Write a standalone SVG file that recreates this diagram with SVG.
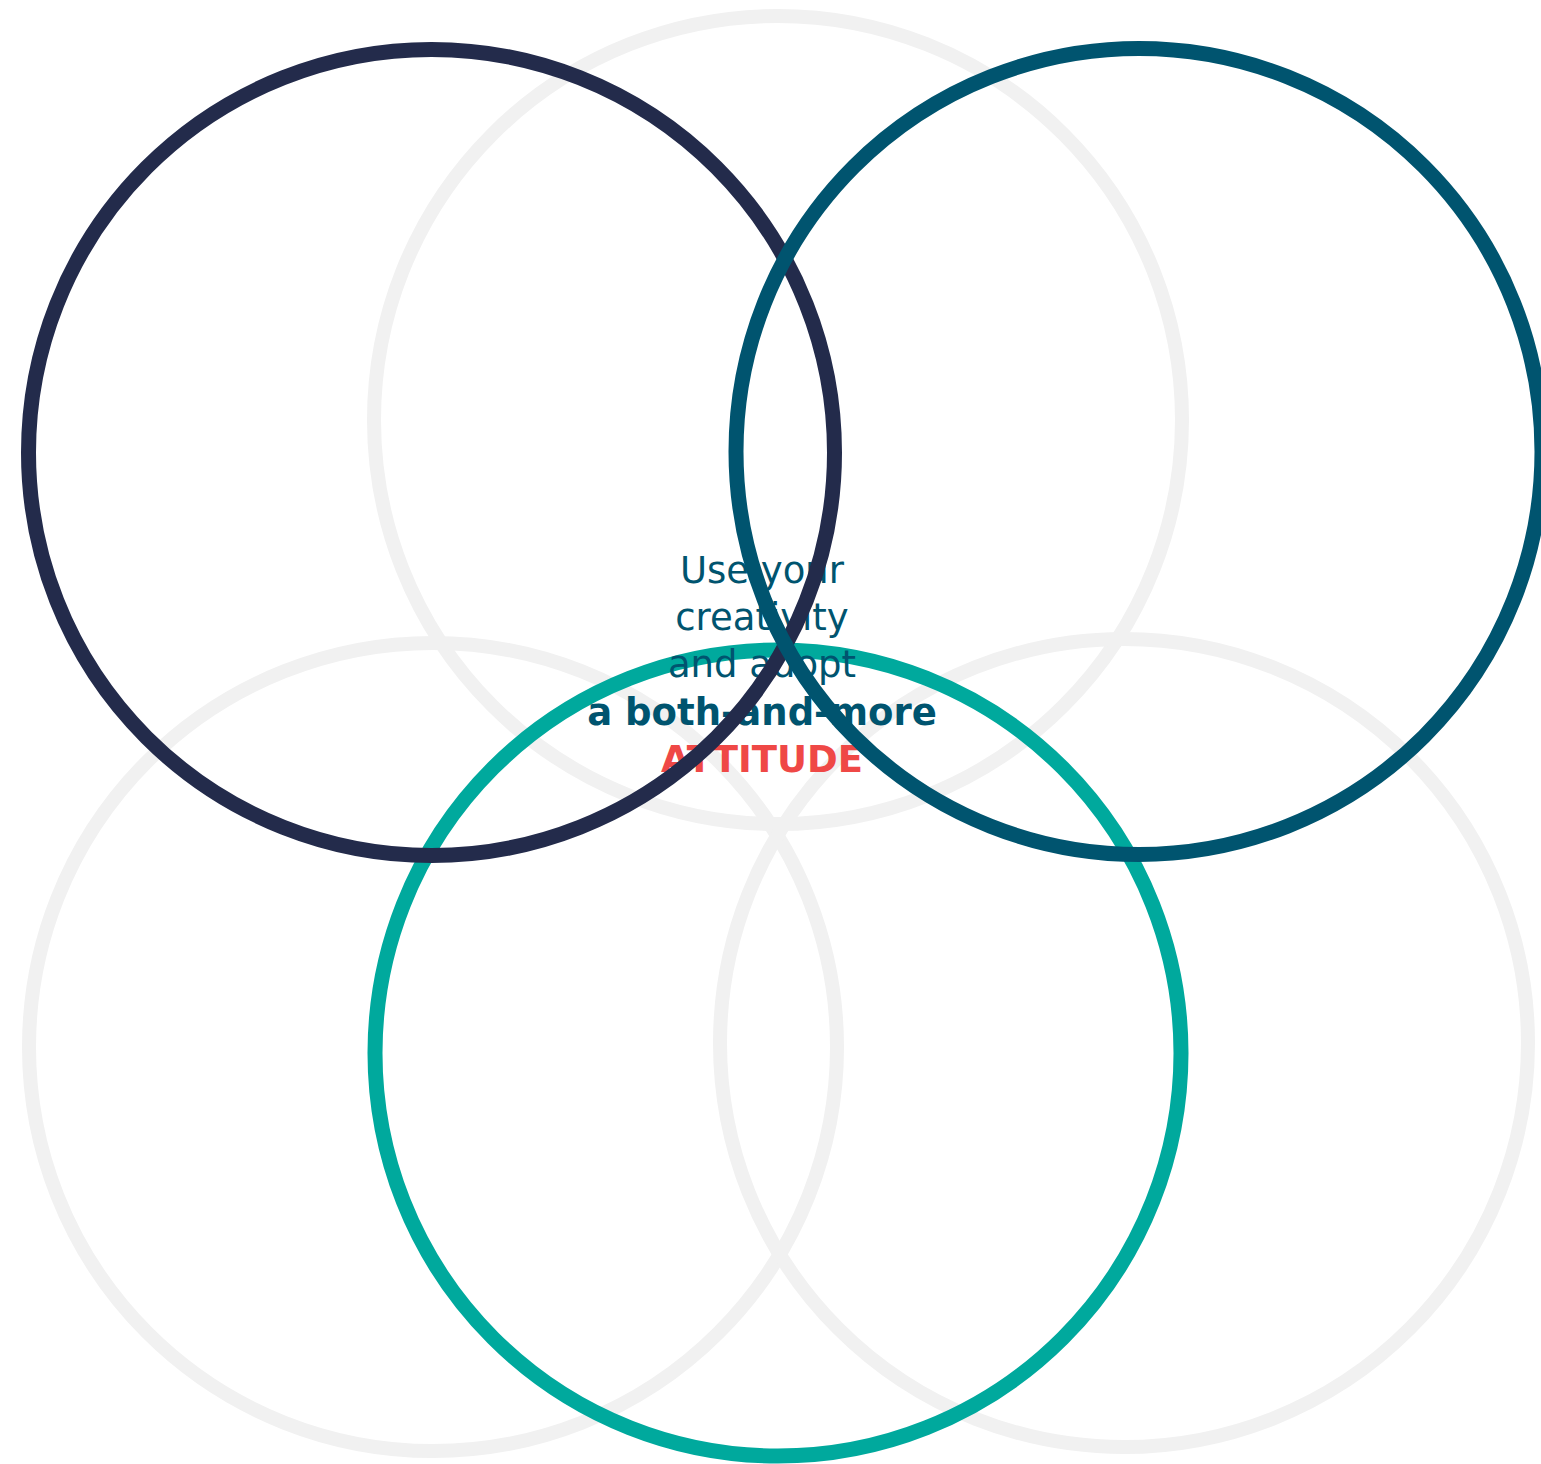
<svg xmlns="http://www.w3.org/2000/svg" width="1541" height="1464" viewBox="0 0 1541 1464">
<style>
.ring{fill:none;stroke-width:15}
.gray{stroke:#F1F1F1;stroke-width:14}
.t{font-family:"DejaVu Sans",Verdana,sans-serif;font-size:37px;text-anchor:middle;fill:#00546F}
.b{font-weight:bold}
.r{fill:#EF4846}
</style>
<rect width="1541" height="1464" fill="#FFFFFF"/>
<g id="gray-top"><circle class="ring gray" cx="778" cy="420" r="404"/></g>
<g id="gray-bottom-left"><circle class="ring gray" cx="433" cy="1047" r="404"/></g>
<g id="gray-bottom-right"><circle class="ring gray" cx="1124" cy="1043" r="404"/></g>
<g id="circle-teal"><circle class="ring" stroke="#00A99D" cx="778" cy="1053" r="403"/></g>
<g id="center-text">
<text class="t" x="762" y="583">Use your</text>
<text class="t" x="762" y="630">creativity</text>
<text class="t" x="762" y="677">and adopt</text>
<text class="t b" x="762" y="725">a both-and-more</text>
<text class="t b r" x="762" y="772">ATTITUDE</text>
</g>
<g id="circle-navy"><circle class="ring" stroke="#232B4B" cx="431.5" cy="452.5" r="403"/></g>
<g id="circle-blue"><circle class="ring" stroke="#00546F" cx="1139" cy="451.5" r="403"/></g>
<g id="connectors"></g>
</svg>
